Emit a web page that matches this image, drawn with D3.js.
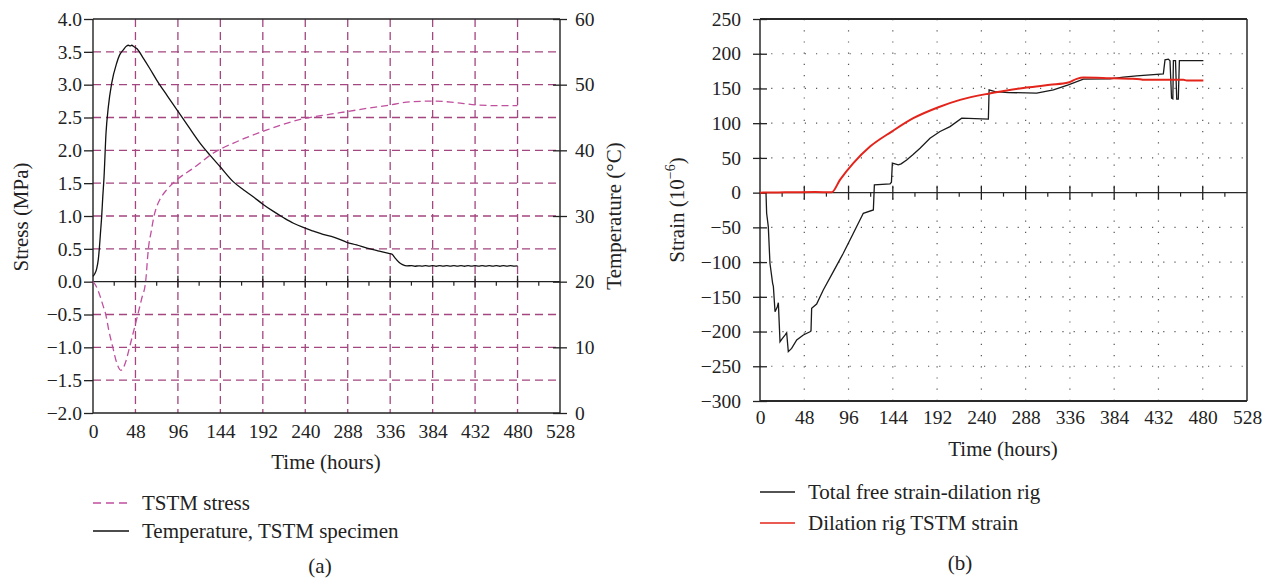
<!DOCTYPE html>
<html>
<head>
<meta charset="utf-8">
<script src="https://cdn.jsdelivr.net/npm/d3@7"></script>
<style>
  html, body { margin: 0; padding: 0; background: #fff; }
  svg { display: block; font-family: "Liberation Serif", "Times New Roman", serif; }
</style>
</head>
<body>
<svg id="fig" width="1273" height="580"></svg>
<script>
// ---- Panel (a): TSTM stress and specimen temperature ----
const timeTicks = [0, 48, 96, 144, 192, 240, 288, 336, 384, 432, 480, 528];
const stressTicks = [4.0, 3.5, 3.0, 2.5, 2.0, 1.5, 1.0, 0.5, 0.0, -0.5, -1.0, -1.5, -2.0];
const tempTicks = [60, 50, 40, 30, 20, 10, 0];

// TSTM stress [hours, MPa]
const stressData = [
  [0, 0], [4, -0.08], [8, -0.22], [11, -0.35], [14.4, -0.5], [18, -0.75], [22.4, -1.0],
  [26, -1.2], [29, -1.31], [31.5, -1.35], [34, -1.32], [37, -1.22], [41.3, -1.0],
  [46, -0.75], [50.7, -0.5], [55, -0.26], [59.5, 0], [62.6, 0.5], [66, 0.78], [69, 1.0],
  [72.5, 1.16], [76, 1.26], [83.4, 1.40], [94.7, 1.55], [113.6, 1.73], [136.2, 1.96],
  [158.8, 2.11], [196.6, 2.31], [234.3, 2.47], [268.3, 2.55], [287.2, 2.59], [310, 2.64],
  [336, 2.69], [358.8, 2.74], [385, 2.75], [408, 2.73], [434, 2.69], [460, 2.68], [480, 2.68]
];

// Specimen temperature [hours, °C]
const tempData = [
  [0, 20.8], [2, 21.2], [4.2, 22.0], [6, 23.4], [7.2, 25.1], [8.5, 27.5], [9.8, 29.9],
  [11, 32.8], [12.5, 36.0], [14.7, 42.6], [17.4, 46.7], [21.1, 50.2], [26.8, 53.3],
  [30, 54.5], [34.3, 55.3], [38, 55.9], [40, 56.0], [42, 55.9], [43.8, 56.0], [46, 55.8],
  [49.5, 55.5], [57, 54.0], [64, 52.5], [72, 50.7], [84, 48.3], [94.7, 46.2], [108, 43.6],
  [121, 41.1], [132, 39.3], [143.8, 37.5], [158.8, 35.2], [170, 34.0], [181.5, 32.9],
  [192, 31.8], [204, 30.7], [216, 29.7], [226.7, 28.9], [237, 28.3], [249.4, 27.7],
  [260, 27.2], [272, 26.8], [287, 26.0], [298, 25.6], [309.8, 25.1], [322, 24.7],
  [334.3, 24.3], [338, 24.2], [341, 23.7], [345.6, 23.0], [350, 22.6], [355, 22.4],
  [360, 22.45], [364, 22.35], [368, 22.42], [372, 22.36], [376, 22.44], [380, 22.37],
  [384, 22.43], [388, 22.35], [392, 22.44], [396, 22.38], [400, 22.43], [404, 22.36],
  [408, 22.44], [412, 22.37], [416, 22.43], [420, 22.35], [424, 22.44], [428, 22.37],
  [432, 22.43], [436, 22.36], [440, 22.45], [444, 22.36], [448, 22.44], [452, 22.37],
  [456, 22.43], [460, 22.35], [464, 22.44], [468, 22.37], [472, 22.43], [476, 22.38],
  [480, 22.4]
];

// ---- Panel (b): strains ----
const strainTicks = [250, 200, 150, 100, 50, 0, -50, -100, -150, -200, -250, -300];

// Total free strain, dilation rig [hours, 1e-6]
const totalStrainData = [
  [0, 0], [6.5, 0], [7.2, -29.7], [9, -49], [10.8, -101.7], [13.7, -130.6], [14.5, -135],
  [16.3, -171.4], [18.8, -164.3], [19.9, -158.5], [21.7, -214.7], [23.5, -211.3],
  [27.1, -205], [28.9, -201.7], [30.7, -229], [34.3, -224.3], [39.8, -212.2], [47, -205],
  [54.2, -200.3], [55.3, -199], [56, -166.6], [61.4, -160.4], [68.6, -140.2],
  [79.5, -113.8], [90.3, -87.3], [101.2, -58.5], [112, -29.7], [122.9, -24.9],
  [124, 11.1], [141, 12.5], [142.5, 15], [143.5, 42.4], [150, 40], [153, 41.5],
  [159, 47], [166, 55], [173.5, 64], [184.3, 78.4], [195.2, 88], [206, 95.1],
  [218.7, 107.2], [247.6, 105.8], [248.4, 148], [254.8, 145.5], [269.3, 144.1],
  [300, 143.2], [318.1, 148], [334.3, 155.2], [350.6, 163.4], [379.5, 163.8],
  [394, 166.2], [408.4, 168.2], [437.3, 171.1], [439.1, 191.2], [442.7, 192.2],
  [444.5, 190], [446.2, 136], [447.6, 135], [448.2, 190.2], [450.5, 190.2],
  [451.8, 134.6], [453.5, 134.6], [454.7, 190.2], [480.7, 190.2]
];

// Dilation rig TSTM strain [hours, 1e-6]
const tstmStrainData = [
  [0, 0], [20, 0.3], [40, 0.6], [60, 0.8], [77.7, 0.5], [86.7, 18.3], [101.2, 42.4],
  [119.3, 66.3], [142.8, 87.9], [166.2, 107.2], [193.4, 123], [216.9, 133.6],
  [247.6, 142.5], [267.5, 147], [289.1, 151.3], [314.4, 155.2], [334.3, 158.5],
  [343.4, 163.8], [350.6, 165.7], [379.5, 164.8], [400, 164], [412, 163.4],
  [415.6, 162.5], [459, 162.4], [462.6, 161.5], [480.7, 161.4]
];

const svg = d3.select("#fig");
const TICK_FONT = "19.5px";
const TITLE_FONT = "21px";
const gridPurple = "#a4467f";
const stressPink = "#c04f9e";

// ================= Panel (a) =================
const xA = d3.scaleLinear().domain([0, 528]).range([93, 560]);
const yA = d3.scaleLinear().domain([-2, 4]).range([413, 19]);
const yT = d3.scaleLinear().domain([0, 60]).range([413, 19]);

const gA = svg.append("g");

// dashed grid
gA.selectAll("line.hgrid")
  .data(stressTicks.filter(v => v !== 4 && v !== 0 && v !== -2))
  .join("line")
  .attr("x1", xA(0)).attr("x2", xA(528))
  .attr("y1", d => yA(d)).attr("y2", d => yA(d))
  .attr("stroke", gridPurple).attr("stroke-width", 1.3)
  .attr("stroke-dasharray", "8,5");
gA.selectAll("line.vgrid")
  .data(timeTicks.filter(v => v > 0 && v < 528))
  .join("line")
  .attr("x1", d => xA(d)).attr("x2", d => xA(d))
  .attr("y1", yA(4)).attr("y2", yA(-2))
  .attr("stroke", gridPurple).attr("stroke-width", 1.3)
  .attr("stroke-dasharray", "8,5");

// frame
const frameA = [
  [xA(0), yA(4), xA(528), yA(4)],
  [xA(0), yA(-2), xA(528), yA(-2)],
  [xA(0), yA(4), xA(0), yA(-2)],
  [xA(528), yA(4), xA(528), yA(-2)],
  [xA(0), yA(0), xA(528), yA(0)]
];
gA.selectAll("line.frame").data(frameA).join("line")
  .attr("x1", d => d[0]).attr("y1", d => d[1]).attr("x2", d => d[2]).attr("y2", d => d[3])
  .attr("stroke", "#222").attr("stroke-width", 1.4);

// ticks on the zero line
gA.selectAll("line.major0").data(timeTicks.filter(v => v > 0 && v < 528)).join("line")
  .attr("x1", d => xA(d)).attr("x2", d => xA(d))
  .attr("y1", yA(0) - 6).attr("y2", yA(0) + 6)
  .attr("stroke", "#222").attr("stroke-width", 1.3);
gA.selectAll("line.minor0").data(d3.range(24, 528, 48)).join("line")
  .attr("x1", d => xA(d)).attr("x2", d => xA(d))
  .attr("y1", yA(0)).attr("y2", yA(0) + 4)
  .attr("stroke", "#222").attr("stroke-width", 1.2);

// left axis (stress)
const axL = gA.append("g").attr("transform", `translate(${xA(0)},0)`)
  .call(d3.axisLeft(yA).tickValues(stressTicks).tickFormat(d3.format(".1f")).tickSize(9).tickPadding(2));
// right axis (temperature)
const axR = gA.append("g").attr("transform", `translate(${xA(528)},0)`)
  .call(d3.axisRight(yT).tickValues(tempTicks).tickSize(7).tickPadding(8));
axR.selectAll(".tick line").attr("x1", -7);
// bottom axis labels
const axB = gA.append("g").attr("transform", `translate(0,${yA(-2)})`)
  .call(d3.axisBottom(xA).tickValues(timeTicks).tickSize(0).tickPadding(11));

[axL, axR, axB].forEach(a => {
  a.select(".domain").remove();
  a.selectAll(".tick line").attr("stroke", "#222").attr("stroke-width", 1.3);
  a.selectAll("text").attr("font-size", TICK_FONT).attr("fill", "#222")
    .attr("font-family", "Liberation Serif, serif");
});

// series
const lineStress = d3.line().x(d => xA(d[0])).y(d => yA(d[1])).curve(d3.curveMonotoneX);
const lineTemp = d3.line().x(d => xA(d[0])).y(d => yT(d[1])).curve(d3.curveMonotoneX);
gA.append("path").datum(stressData).attr("d", lineStress)
  .attr("fill", "none").attr("stroke", stressPink).attr("stroke-width", 1.3)
  .attr("stroke-dasharray", "7,4");
gA.append("path").datum(tempData).attr("d", lineTemp)
  .attr("fill", "none").attr("stroke", "#111").attr("stroke-width", 1.3);

// axis titles
gA.append("text").attr("transform", "translate(21,217) rotate(-90)")
  .attr("text-anchor", "middle").attr("dominant-baseline", "central")
  .attr("font-size", TITLE_FONT).attr("fill", "#222").text("Stress (MPa)");
gA.append("text").attr("transform", "translate(614,216) rotate(-90)")
  .attr("text-anchor", "middle").attr("dominant-baseline", "central")
  .attr("font-size", TITLE_FONT).attr("fill", "#222").text("Temperature (°C)");
gA.append("text").attr("x", 326).attr("y", 462)
  .attr("text-anchor", "middle").attr("dominant-baseline", "central")
  .attr("font-size", TITLE_FONT).attr("fill", "#222").text("Time (hours)");

// legend (a)
const legA = [
  { label: "TSTM stress", color: stressPink, dash: "8,5", y: 503 },
  { label: "Temperature, TSTM specimen", color: "#111", dash: null, y: 531 }
];
const lgA = gA.selectAll("g.leg").data(legA).join("g");
lgA.append("line").attr("x1", 93).attr("x2", 129).attr("y1", d => d.y).attr("y2", d => d.y)
  .attr("stroke", d => d.color).attr("stroke-width", 1.4)
  .attr("stroke-dasharray", d => d.dash);
lgA.append("text").attr("x", 142).attr("y", d => d.y).attr("dominant-baseline", "central")
  .attr("font-size", TITLE_FONT).attr("fill", "#222").text(d => d.label);
gA.append("text").attr("x", 320).attr("y", 566).attr("text-anchor", "middle")
  .attr("dominant-baseline", "central").attr("font-size", TITLE_FONT).attr("fill", "#222").text("(a)");

// ================= Panel (b) =================
const xB = d3.scaleLinear().domain([0, 528]).range([760, 1247]);
const yB = d3.scaleLinear().domain([-300, 250]).range([401, 19]);
const gB = svg.append("g");

// dotted grid
gB.selectAll("line.hgrid").data(strainTicks.filter(v => v !== 250 && v !== 0 && v !== -300)).join("line")
  .attr("x1", xB(0)).attr("x2", xB(528))
  .attr("y1", d => yB(d)).attr("y2", d => yB(d))
  .attr("stroke", "#555").attr("stroke-width", 1.2).attr("stroke-dasharray", "1.2,10");
gB.selectAll("line.vgrid").data(timeTicks.filter(v => v > 0 && v < 528)).join("line")
  .attr("x1", d => xB(d)).attr("x2", d => xB(d))
  .attr("y1", yB(250)).attr("y2", yB(-300))
  .attr("stroke", "#555").attr("stroke-width", 1.2).attr("stroke-dasharray", "1.2,10");

// frame
const frameB = [
  [xB(0), yB(250), xB(528), yB(250), 1.8],
  [xB(0), yB(-300), xB(528), yB(-300), 2.2],
  [xB(0), yB(250), xB(0), yB(-300), 1.5],
  [xB(528), yB(250), xB(528), yB(-300), 1.5],
  [xB(0), yB(0), xB(528), yB(0), 1.4]
];
gB.selectAll("line.frame").data(frameB).join("line")
  .attr("x1", d => d[0]).attr("y1", d => d[1]).attr("x2", d => d[2]).attr("y2", d => d[3])
  .attr("stroke", "#2a2a2a").attr("stroke-width", d => d[4]);

gB.selectAll("line.major0").data(timeTicks.filter(v => v > 0 && v < 528)).join("line")
  .attr("x1", d => xB(d)).attr("x2", d => xB(d))
  .attr("y1", yB(0) - 7).attr("y2", yB(0) + 7)
  .attr("stroke", "#222").attr("stroke-width", 1.3);
gB.selectAll("line.minor0").data(d3.range(24, 528, 48)).join("line")
  .attr("x1", d => xB(d)).attr("x2", d => xB(d))
  .attr("y1", yB(0)).attr("y2", yB(0) + 4)
  .attr("stroke", "#222").attr("stroke-width", 1.2);

const axBL = gB.append("g").attr("transform", `translate(${xB(0)},0)`)
  .call(d3.axisLeft(yB).tickValues(strainTicks).tickSize(7).tickPadding(12));
axBL.selectAll(".tick line").attr("x1", 7);
const axBB = gB.append("g").attr("transform", `translate(0,${yB(-300)})`)
  .call(d3.axisBottom(xB).tickValues(timeTicks).tickSize(0).tickPadding(9));
[axBL, axBB].forEach(a => {
  a.select(".domain").remove();
  a.selectAll(".tick line").attr("stroke", "#222").attr("stroke-width", 1.3);
  a.selectAll("text").attr("font-size", TICK_FONT).attr("fill", "#222")
    .attr("font-family", "Liberation Serif, serif");
});

const lineB = d3.line().x(d => xB(d[0])).y(d => yB(d[1]));
gB.append("path").datum(totalStrainData).attr("d", lineB)
  .attr("fill", "none").attr("stroke", "#1a1a1a").attr("stroke-width", 1.3);
gB.append("path").datum(tstmStrainData).attr("d", lineB.curve(d3.curveMonotoneX))
  .attr("fill", "none").attr("stroke", "#e3241b").attr("stroke-width", 2);

// titles
const strainTitle = gB.append("text").attr("transform", "translate(677,210) rotate(-90)")
  .attr("text-anchor", "middle").attr("dominant-baseline", "central")
  .attr("font-size", TITLE_FONT).attr("fill", "#222");
strainTitle.append("tspan").text("Strain (10");
strainTitle.append("tspan").attr("font-size", "14px").attr("dy", "-7").text("−6");
strainTitle.append("tspan").attr("dy", "7").text(")");
gB.append("text").attr("x", 1003).attr("y", 449)
  .attr("text-anchor", "middle").attr("dominant-baseline", "central")
  .attr("font-size", TITLE_FONT).attr("fill", "#222").text("Time (hours)");

const legB = [
  { label: "Total free strain-dilation rig", color: "#1a1a1a", w: 1.4, y: 492 },
  { label: "Dilation rig TSTM strain", color: "#e3241b", w: 1.6, y: 523 }
];
const lgB = gB.selectAll("g.leg").data(legB).join("g");
lgB.append("line").attr("x1", 760).attr("x2", 795).attr("y1", d => d.y).attr("y2", d => d.y)
  .attr("stroke", d => d.color).attr("stroke-width", d => d.w);
lgB.append("text").attr("x", 808).attr("y", d => d.y).attr("dominant-baseline", "central")
  .attr("font-size", TITLE_FONT).attr("fill", "#222").text(d => d.label);
gB.append("text").attr("x", 960).attr("y", 563).attr("text-anchor", "middle")
  .attr("dominant-baseline", "central").attr("font-size", TITLE_FONT).attr("fill", "#222").text("(b)");
</script>
</body>
</html>
